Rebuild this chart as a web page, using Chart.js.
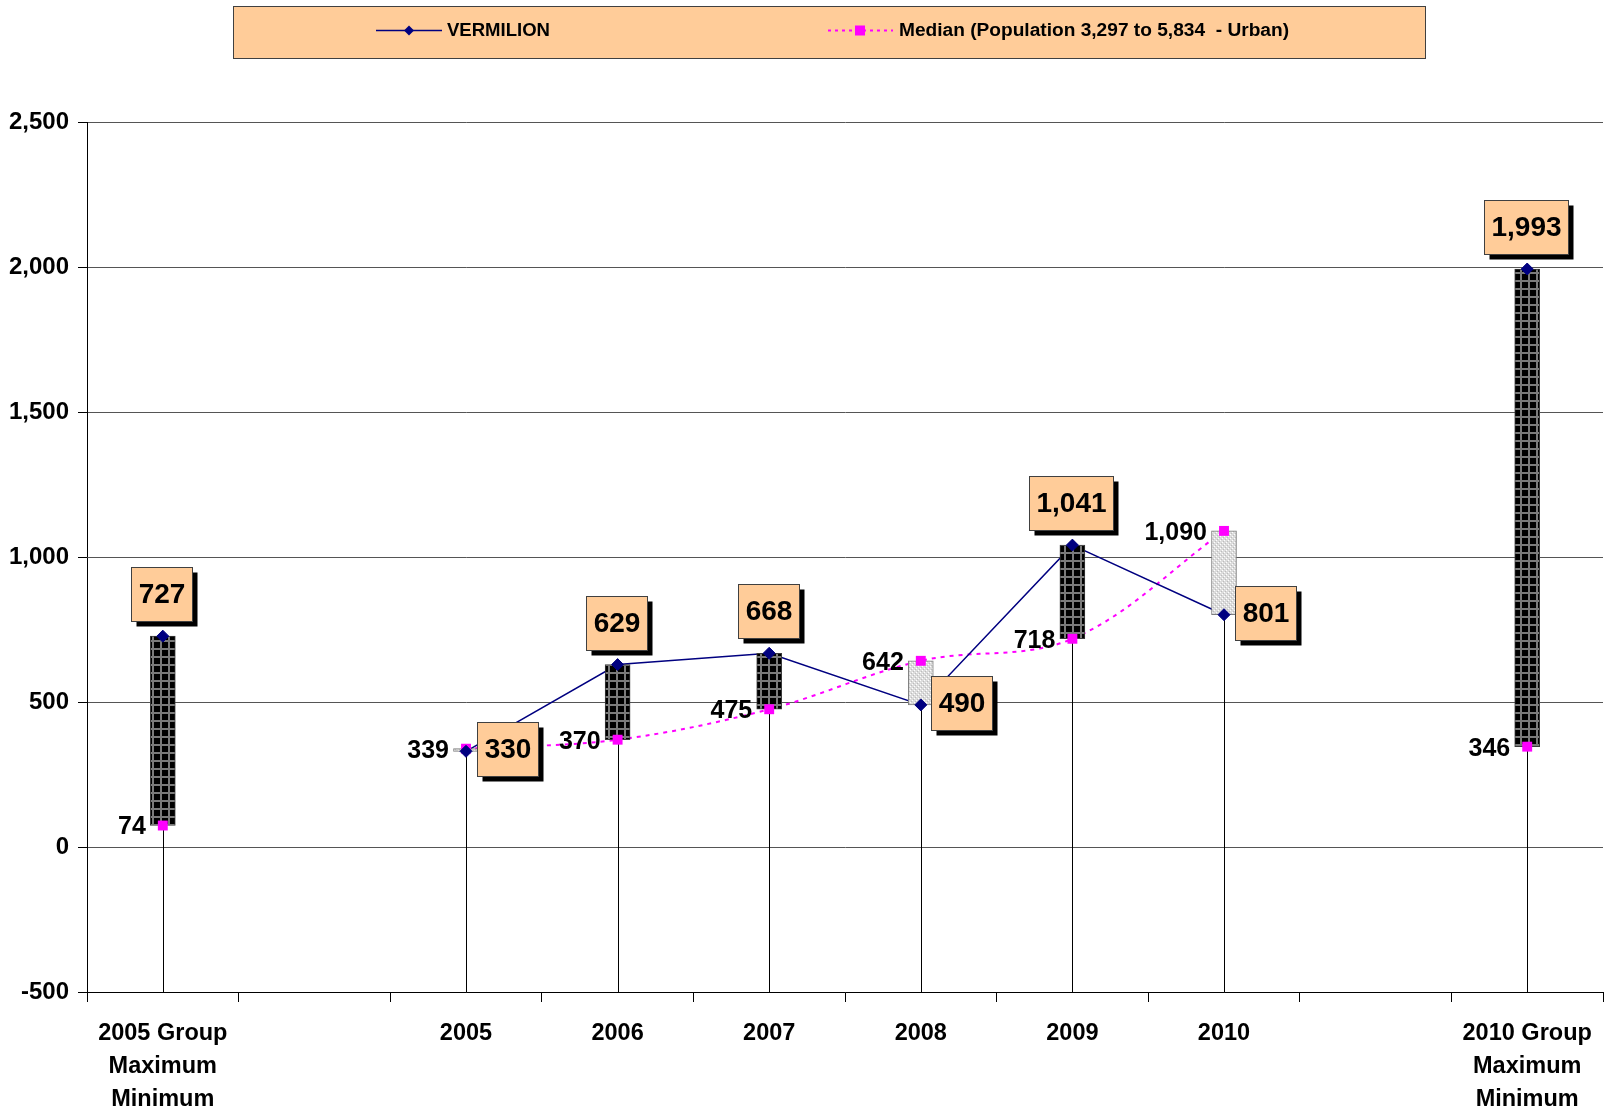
<!DOCTYPE html>
<html><head><meta charset="utf-8">
<script src="https://cdn.jsdelivr.net/npm/chart.js@4.4.1/dist/chart.umd.min.js"></script>
<style>html,body{margin:0;padding:0;background:#fff;} canvas{display:block;}</style>
</head><body>
<canvas id="c" width="1606" height="1115" style="width:1606px;height:1115px"></canvas>
<script>
// ---- data ----
const categories = [["2005 Group","Maximum","Minimum"], "", "2005", "2006", "2007", "2008", "2009", "2010", "", ["2010 Group","Maximum","Minimum"]];
const vermilion = [727, null, 330, 629, 668, 490, 1041, 801, null, 1993];
const median    = [74,  null, 339, 370, 475, 642, 718, 1090, null, 346];
const yTicks = [-500, 0, 500, 1000, 1500, 2000, 2500];
const seriesNames = ["VERMILION", "Median (Population 3,297 to 5,834  - Urban)"];

// ---- styling ----
const FONT = "'Liberation Sans', Arial, sans-serif";
const NAVY = '#000080', MAGENTA = '#FF00FF', PEACH = '#FFCC99';
const fmt = v => Number(v).toLocaleString('en-US');

const canvas = document.getElementById('c');
const ctx = canvas.getContext('2d');

function makePattern(size, draw) {
  const c = document.createElement('canvas');
  c.width = c.height = size;
  draw(c.getContext('2d'), size);
  return ctx.createPattern(c, 'repeat');
}
const darkPattern = makePattern(8, (g, s) => {
  g.fillStyle = '#000'; g.fillRect(0, 0, s, s);
  g.fillStyle = '#7a7a7a'; g.fillRect(0, 0, s, 2); g.fillRect(0, 0, 2, s);
});
const lightPattern = makePattern(4, (g, s) => {
  g.fillStyle = '#dcdcdc'; g.fillRect(0, 0, s, s);
  g.fillStyle = '#ffffff'; g.fillRect(0, 0, 1, 1); g.fillRect(2, 2, 1, 1);
  g.fillStyle = '#bcbcbc'; g.fillRect(1, 3, 1, 1); g.fillRect(3, 1, 1, 1);
});

const floatData = categories.map((_, i) =>
  (vermilion[i] == null || median[i] == null) ? null : [median[i], vermilion[i]]);

const bgPlugin = {
  id: 'bg',
  beforeDraw(chart) {
    const c = chart.ctx; c.save(); c.fillStyle = '#fff';
    c.fillRect(0, 0, chart.width, chart.height); c.restore();
  }
};

const dropLines = {
  id: 'dropLines',
  beforeDatasetsDraw(chart) {
    const c = chart.ctx, xs = chart.scales.x, ys = chart.scales.y;
    c.save(); c.strokeStyle = '#000'; c.lineWidth = 1;
    categories.forEach((_, i) => {
      if (vermilion[i] == null) return;
      const x = Math.round(xs.getPixelForValue(i)) + 0.5;
      const top = ys.getPixelForValue(Math.max(vermilion[i], median[i]));
      c.beginPath(); c.moveTo(x, top); c.lineTo(x, chart.chartArea.bottom); c.stroke();
    });
    c.restore();
  }
};

const labelsPlugin = {
  id: 'valueLabels',
  afterDatasetsDraw(chart) {
    const c = chart.ctx, xs = chart.scales.x, ys = chart.scales.y;
    c.save();
    categories.forEach((_, i) => {
      const v = vermilion[i], m = median[i];
      if (v == null) return;
      const x = xs.getPixelForValue(i);
      const yv = ys.getPixelForValue(v), ym = ys.getPixelForValue(m);
      // median label (plain, left of point)
      c.font = 'bold 25px ' + FONT;
      c.fillStyle = '#000'; c.textAlign = 'right'; c.textBaseline = 'middle';
      c.fillText(fmt(m), x - 17, ym + 2);
      // vermilion boxed label
      c.font = 'bold 28px ' + FONT;
      const tw = c.measureText(fmt(v)).width;
      const bw = Math.round(tw + 14), bh = 54;
      let cx, cy;
      if (v >= m) { cx = x - 1; cy = yv - 42; }
      else { cx = x + 41; cy = yv - 2; }
      const bx = Math.round(cx - bw / 2) + 0.5, by = Math.round(cy - bh / 2) + 0.5;
      c.fillStyle = '#000'; c.fillRect(bx + 5, by + 5, bw, bh);
      c.fillStyle = PEACH; c.fillRect(bx, by, bw, bh);
      c.strokeStyle = '#404040'; c.lineWidth = 1; c.strokeRect(bx, by, bw, bh);
      c.fillStyle = '#000'; c.textAlign = 'center'; c.textBaseline = 'middle';
      c.fillText(fmt(v), bx + bw / 2, by + bh / 2 + 1);
    });
    c.restore();
  }
};

function fitText(c, text, x, y, targetWidth) {
  const w = c.measureText(text).width;
  c.save(); c.translate(x, y); c.scale(targetWidth / w, 1);
  c.fillText(text, 0, 0); c.restore();
}

const legendPlugin = {
  id: 'customLegend',
  afterDraw(chart) {
    const c = chart.ctx;
    c.save();
    c.fillStyle = PEACH; c.fillRect(233.5, 6.5, 1192, 52);
    c.strokeStyle = '#404040'; c.lineWidth = 1; c.strokeRect(233.5, 6.5, 1192, 52);
    const y = 30.5;
    // VERMILION
    c.strokeStyle = NAVY; c.lineWidth = 1.5;
    c.beginPath(); c.moveTo(376, y); c.lineTo(442, y); c.stroke();
    c.fillStyle = NAVY; c.beginPath();
    c.moveTo(409, y - 5); c.lineTo(414, y); c.lineTo(409, y + 5); c.lineTo(404, y); c.closePath(); c.fill();
    // Median
    c.strokeStyle = MAGENTA; c.lineWidth = 2; c.setLineDash([3, 4]);
    c.beginPath(); c.moveTo(828, y); c.lineTo(893, y); c.stroke(); c.setLineDash([]);
    c.fillStyle = MAGENTA; c.fillRect(855, y - 5, 10, 10);
    c.fillStyle = '#000'; c.font = 'bold 18px ' + FONT; c.textBaseline = 'middle'; c.textAlign = 'left';
    fitText(c, seriesNames[0], 447, y + 1, 103);
    fitText(c, seriesNames[1], 899, y + 1, 390);
    c.restore();
  }
};

new Chart(ctx, {
  type: 'bar',
  data: {
    labels: categories,
    datasets: [
      { type: 'line', label: seriesNames[0], data: vermilion, borderColor: NAVY, borderWidth: 1.5,
        pointRadius: 0, tension: 0, fill: false, order: 3, spanGaps: false },
      { type: 'line', label: seriesNames[1], data: median, borderColor: MAGENTA, borderWidth: 2,
        borderDash: [4, 5], pointRadius: 0, tension: 0.35, fill: false, order: 3, spanGaps: false },
      { type: 'bar', label: 'range', data: floatData, barThickness: 25,
        backgroundColor: c => (vermilion[c.dataIndex] >= median[c.dataIndex] ? darkPattern : lightPattern),
        borderColor: c => (vermilion[c.dataIndex] >= median[c.dataIndex] ? '#3a3a3a' : '#7f7f7f'),
        borderWidth: 1, borderSkipped: false, order: 2 },
      { type: 'line', label: seriesNames[0] + ' pts', data: vermilion, showLine: false,
        pointStyle: 'rectRot', pointRadius: 6, pointBackgroundColor: NAVY, pointBorderColor: NAVY,
        pointBorderWidth: 1, order: 1 },
      { type: 'line', label: seriesNames[1] + ' pts', data: median, showLine: false,
        pointStyle: 'rect', pointRadius: 7, pointBackgroundColor: MAGENTA, pointBorderColor: MAGENTA,
        pointBorderWidth: 0, order: 1 }
    ]
  },
  options: {
    responsive: false,
    animation: false,
    events: [],
    layout: { autoPadding: false, padding: { top: 122, right: 3, left: 0, bottom: 0 } },
    plugins: { legend: { display: false }, tooltip: { enabled: false } },
    scales: {
      x: {
        offset: true,
        grid: { display: true, drawOnChartArea: false, drawTicks: true, tickLength: 10,
                offset: true, color: '#000', tickColor: '#000' },
        border: { display: true, color: '#000', width: 1 },
        ticks: { color: '#000', font: { family: FONT, size: 23.5, weight: 'bold', lineHeight: 1.4 },
                 padding: 15, maxRotation: 0, autoSkip: false },
        afterFit: s => { s.height = 123; s.paddingLeft = 0; s.paddingRight = 0; }
      },
      y: {
        min: yTicks[0], max: yTicks[yTicks.length - 1],
        ticks: { stepSize: yTicks[1] - yTicks[0], color: '#000', padding: 9,
                 font: { family: FONT, size: 24, weight: 'bold' },
                 callback: v => fmt(v) },
        grid: { color: '#555', lineWidth: 1, tickLength: 9, tickColor: '#000' },
        border: { display: true, color: '#000', width: 1 },
        afterFit: s => { s.width = 87; }
      }
    }
  },
  plugins: [bgPlugin, dropLines, labelsPlugin, legendPlugin]
});
</script>
</body></html>
